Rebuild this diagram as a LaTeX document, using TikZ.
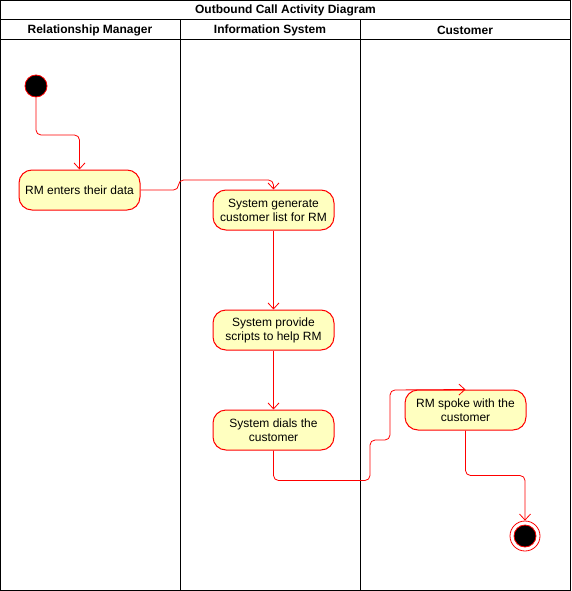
\documentclass[tikz,border=0pt]{standalone}
\usepackage{fontspec}
\setmainfont{Liberation Sans}
\usetikzlibrary{arrows.meta,positioning}
\definecolor{actfill}{HTML}{FFFFC0}
\tikzset{
  act/.style={draw=red,fill=actfill,rounded corners=13pt,minimum width=121pt,
    minimum height=40pt,align=center,inner sep=2pt,font=\fontsize{12}{14}\selectfont},
  flow/.style={draw=red,rounded corners=5pt,-{Straight Barb[length=6pt,width=11pt]}},
  head/.style={font=\bfseries\fontsize{12}{14}\selectfont},
}
\begin{document}
\begin{tikzpicture}[x=1pt,y=-1pt,line width=1pt]
    \useasboundingbox (0,0) rectangle (571,591);
    \draw (0.5,0.5) rectangle (570.5,590.5);
    \draw (0.5,20) -- (570.5,20) (0.5,40) -- (570.5,40);
    \node[head] (title) at (285.5,10) {Outbound Call Activity Diagram};
    \foreach \x/\t [count=\i] in {90/Relationship Manager,270/Information System,465/Customer}{%
    \node[head] (L\i) at (\x,30) {\t};
    }
    \draw (180,20) -- (180,590.5) (360,20) -- (360,590.5);
    % activities
    \node[circle,fill=black,draw=red,line width=0.8pt,minimum size=22pt,inner sep=0pt] (start) at (36,86) {};
    \node[act] (enter) at (79.5,190) {RM enters their data};
    \node[act] (gen) at (273.5,210) {System generate\\customer list for RM};
    \node[act] (prov) at (273.5,330) {System provide\\scripts to help RM};
    \node[act] (dial) at (273.5,430) {System dials the\\customer};
    \node[act] (spoke) at (465.5,410) {RM spoke with the\\customer};
    \node[circle,draw=red,line width=0.8pt,minimum size=30pt,inner sep=0pt] (stop) at (525,536) {};
    \node[circle,fill=black,draw=red,line width=0.8pt,minimum size=22pt,inner sep=0pt] at (stop) {};
    % flows
    \draw[flow,line width=0.8pt] (start) -- ++(0,49) -| (enter.north);
    \draw[flow,line width=0.8pt] (enter.east) -- ++(38,0) -- ++(0,-10) -| (gen.north);
    \draw[flow,line width=0.8pt] (gen) -- (prov);
    \draw[flow,line width=0.8pt] (prov) -- (dial);
    \draw[flow,line width=0.8pt] (dial.south) -- ++(0,30) -| (370,440) -| (390,390) -- (spoke.north);
    \draw[flow,line width=0.8pt] (spoke.south) -- ++(0,45) -| (stop.north);
\end{tikzpicture}
\end{document}
